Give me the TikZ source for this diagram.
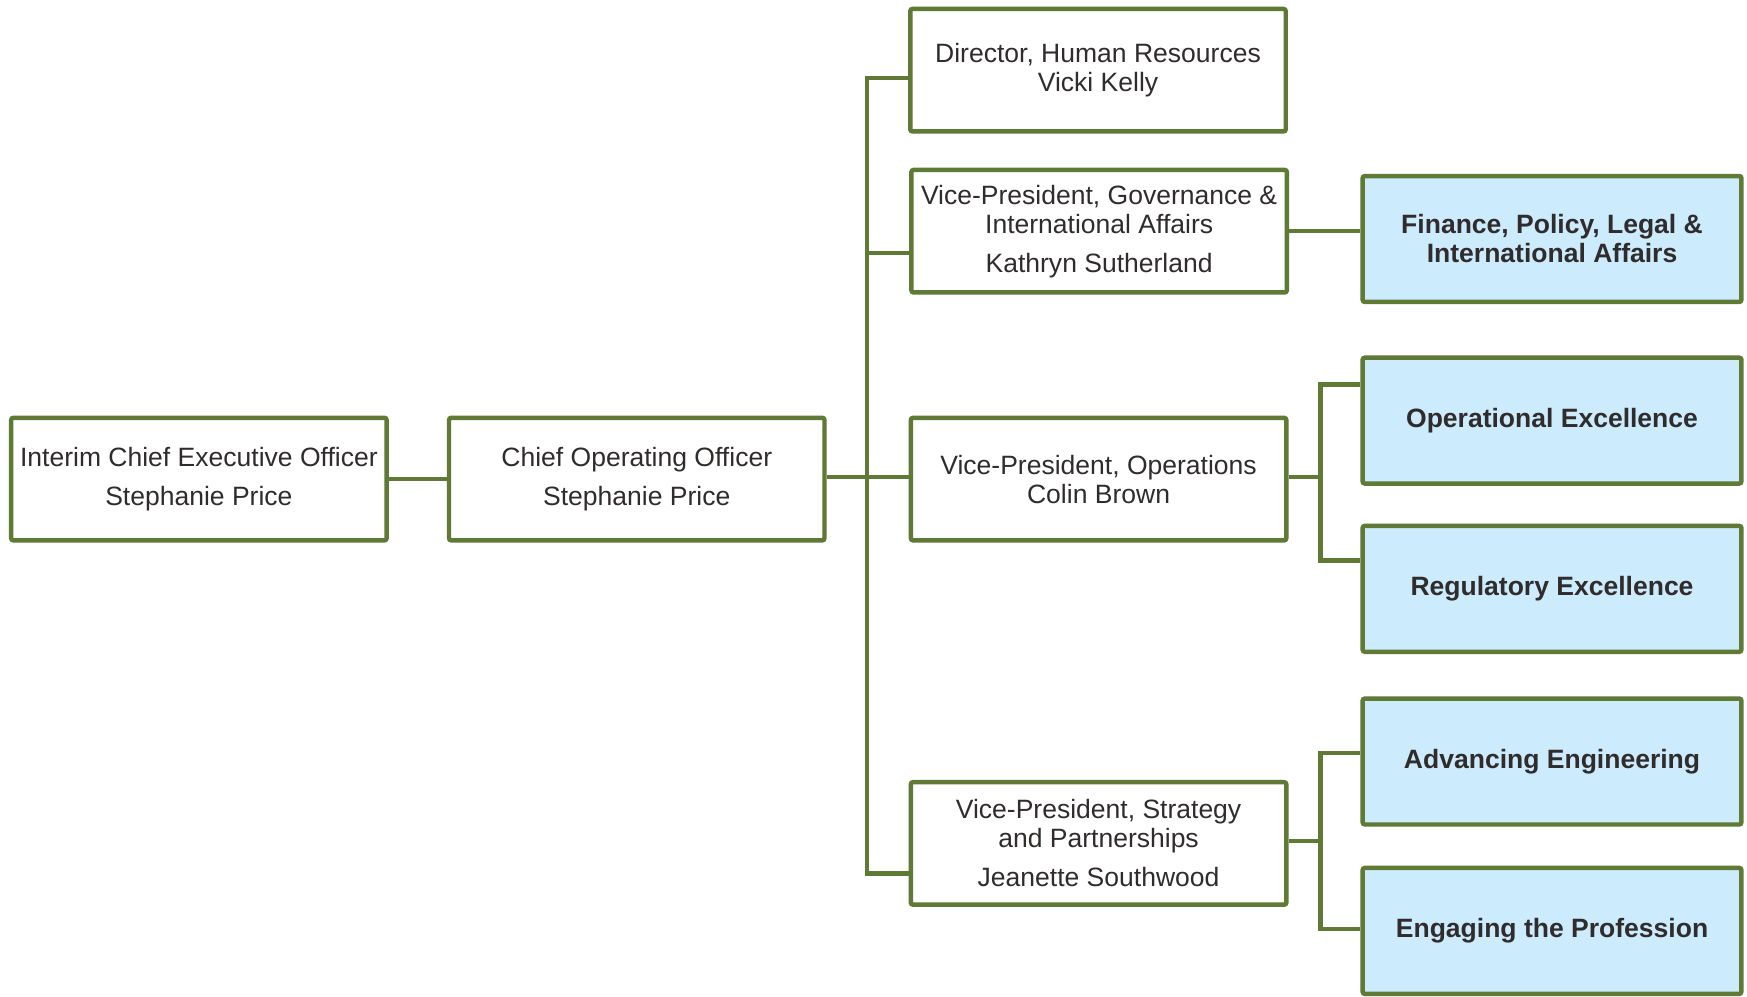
\documentclass[tikz,border=0pt]{standalone}
\usepackage{fontspec}
\setmainfont{Liberation Sans}
\usepackage{xcolor}
\usepackage{tikz}
\usetikzlibrary{positioning,calc}

\definecolor{orgline}{HTML}{5E7A34}
\definecolor{unitfill}{HTML}{CCEBFD}
\definecolor{orgtext}{HTML}{302C2C}

\begin{document}
\begin{tikzpicture}[x=0.5pt,y=-0.5pt,
                    every node/.append style = {font=\fontsize{11.9}{13}\selectfont, text=orgtext, align=center},
                    person/.style = {draw=orgline, line width=2pt, fill=white, rounded corners=1pt,
                                     minimum width=168.5pt, minimum height=55pt, inner sep=0pt},
                    unit/.style = {person, fill=unitfill, minimum width=170pt, minimum height=56.5pt,
                                   font=\fontsize{11.9}{13}\selectfont\bfseries},
                    link/.style = {draw=orgline, line width=2pt}]
                \useasboundingbox (0,0) rectangle (1568,894);
                % people
                \node[person] (ceo) at (178.5,430) {Interim Chief Executive Officer\\[4.5pt]Stephanie Price};
                \node[person] (coo) at (571.5,430) {Chief Operating Officer\\[4.5pt]Stephanie Price};
                \node[person] (hr) at (985.5,63) {Director, Human Resources\\Vicki Kelly};
                \node[person] (gov) at (986.5,207.5) {Vice-President, Governance \&\\International Affairs\\[4.5pt]Kathryn Sutherland};
                \node[person] (ops) at (986,430) {Vice-President, Operations\\Colin Brown};
                \node[person] (strat) at (986,757) {Vice-President, Strategy\\and Partnerships\\[4.5pt]Jeanette Southwood};
                % units
                \node[unit] (fin) at (1393,214.5) {Finance, Policy, Legal \&\\International Affairs};
                \node[unit] (opex) at (1393,377.5) {Operational Excellence};
                \node[unit] (regex) at (1393,528.5) {Regulatory Excellence};
                \node[unit] (adveng) at (1393,683.5) {Advancing Engineering};
                \node[unit] (engage) at (1393,835.5) {Engaging the Profession};
                % forks
                \coordinate (spine) at (778,428);
                \coordinate (opsfork) at (1185,428);
                \coordinate (stratfork) at (1185,755);
                % connectors
                \draw[link] (ceo) -- (coo);
                \draw[link] ($(coo.east)+(0,-2)$) -- (spine);
                \draw[link] (spine) |- ($(hr.west)+(0,7)$);
                \draw[link] (spine) |- ($(gov.west)+(0,19.5)$);
                \draw[link] (spine) |- ($(ops.west)+(0,-2)$);
                \draw[link] (spine) |- ($(strat.west)+(0,27)$);
                \draw[link] (gov.east) -- (gov.east -| fin.west);
                \draw[link] ($(ops.east)+(0,-2)$) -- (opsfork);
                \draw[link] (opsfork) |- ($(opex.west)+(0,-32.5)$);
                \draw[link] (opsfork) |- ($(regex.west)+(0,-25.5)$);
                \draw[link] ($(strat.east)+(0,-2)$) -- (stratfork);
                \draw[link] (stratfork) |- ($(adveng.west)+(0,-7.5)$);
                \draw[link] (stratfork) |- ($(engage.west)+(0,-1.5)$);
\end{tikzpicture}
\end{document}
